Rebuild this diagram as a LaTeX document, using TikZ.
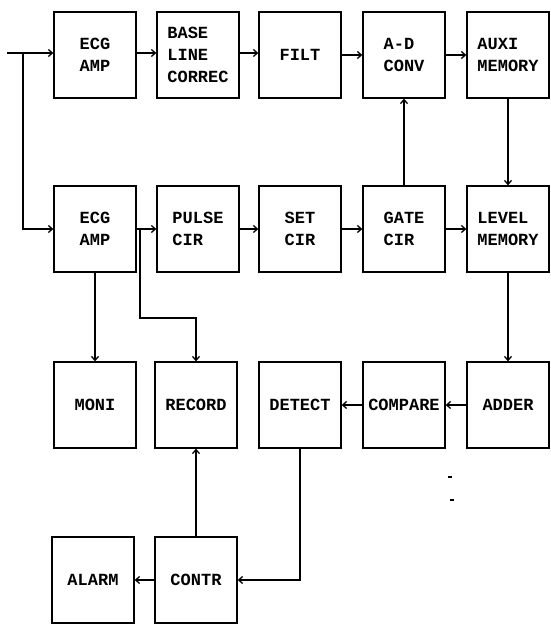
\documentclass[tikz,border=0pt]{standalone}
\usepackage{fontspec}
\newfontfamily\maquina{Liberation Mono}
\usetikzlibrary{arrows.meta, positioning}

\begin{document}
\begin{tikzpicture}[x=1pt, y=-1pt,
  bloque/.style={draw, line width=1.3pt, minimum width=82pt, minimum height=86pt,
    inner sep=2pt, align=left, font=\maquina\bfseries\fontsize{17}{22}\selectfont},
  flecha/.style={line width=1.3pt, -{Straight Barb[length=4pt, width=7pt]}},
  linea/.style={line width=1.3pt}]
\useasboundingbox (0,0) rectangle (551,624);
% Fila 1
\node[bloque] (ecgA) at (95,55) {ECG\\AMP};
\node[bloque] (base) at (198,55) {BASE\\LINE\\CORREC};
\node[bloque] (filt) at (300,55) {FILT};
\node[bloque] (adconv) at (404,55) {A-D\\CONV};
\node[bloque] (auxi) at (508,55) {AUXI\\MEMORY};
% Fila 2
\node[bloque] (ecgB) at (95,229) {ECG\\AMP};
\node[bloque] (pulse) at (198,229) {PULSE\\CIR};
\node[bloque] (setcir) at (300,229) {SET\\CIR};
\node[bloque] (gate) at (404,229) {GATE\\CIR};
\node[bloque] (level) at (508,229) {LEVEL\\MEMORY};
% Fila 3
\node[bloque] (moni) at (95,405) {MONI};
\node[bloque] (record) at (196,405) {RECORD};
\node[bloque] (detect) at (300,405) {DETECT};
\node[bloque] (compare) at (404,405) {COMPARE};
\node[bloque] (adder) at (508,405) {ADDER};
% Fila 4
\node[bloque] (alarm) at (93,580) {ALARM};
\node[bloque] (contr) at (196,580) {CONTR};

% Entrada y ramal
\coordinate (entrada) at (7,53);
\coordinate (ramal) at (23,53);
\draw[flecha] (entrada) -- (ecgA.west |- entrada);
\draw[flecha] (ramal) |- (ecgB.west);
% Conexiones fila 1
\draw[flecha] (ecgA.east |- entrada) -- (base.west |- entrada);
\draw[flecha] (base.east |- entrada) -- (filt.west |- entrada);
\draw[flecha] (filt) -- (adconv);
\draw[flecha] (adconv) -- (auxi);
\draw[flecha] (auxi.south) -- (level.north);
\draw[flecha] (gate.north) -- (adconv.south);
% Conexiones fila 2
\draw[flecha] (ecgB) -- (pulse);
\draw[flecha] (pulse) -- (setcir);
\draw[flecha] (setcir) -- (gate);
\draw[flecha] (gate) -- (level);
\draw[flecha] (level.south) -- (adder.north);
\draw[flecha] (ecgB.south) -- (moni.north);
\coordinate (desvio) at (140,229);
\draw[flecha] (desvio) |- (record.north |- 0,318) -- (record.north);
% Conexiones fila 3 y 4
\draw[flecha] (adder) -- (compare);
\draw[flecha] (compare) -- (detect);
\draw[flecha] (detect.south) |- (contr.east);
\draw[flecha] (contr.north) -- (record.south);
\draw[flecha] (contr) -- (alarm);
% marcas sueltas
\draw[linea] (448,477) -- (452,477);
\draw[linea] (450,500) -- (454,500);
\end{tikzpicture}
\end{document}
